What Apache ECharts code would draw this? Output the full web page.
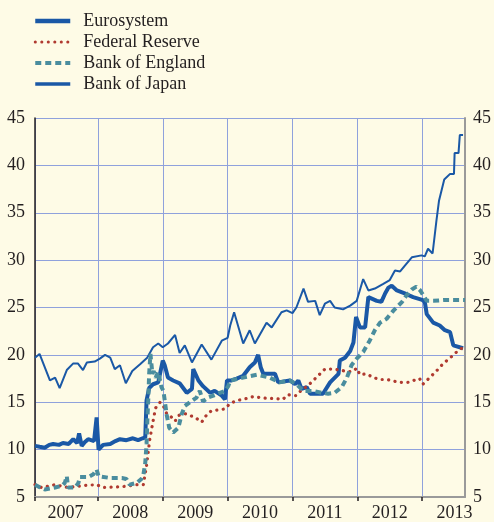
<!DOCTYPE html>
<html>
<head>
<meta charset="utf-8">
<script src="https://cdn.jsdelivr.net/npm/echarts@6/dist/echarts.min.js"></script>
<style>
  html, body { margin: 0; padding: 0; background: #fefbe6; }
  #chart { width: 494px; height: 522px; }
</style>
</head>
<body>
<div id="chart"></div>
<script>
// year labels and value ticks
const years = [2007, 2008, 2009, 2010, 2011, 2012, 2013];
const yTicks = [5, 10, 15, 20, 25, 30, 35, 40, 45];

// [fractional year, value]
const eurosystem = [
  [2007.03, 10.4], [2007.10, 10.3], [2007.18, 10.2], [2007.25, 10.5], [2007.31, 10.6], [2007.40, 10.5],
  [2007.46, 10.7], [2007.55, 10.6], [2007.62, 11.1], [2007.68, 10.7], [2007.71, 11.7], [2007.75, 10.4],
  [2007.80, 10.8], [2007.85, 11.1], [2007.94, 10.9], [2007.98, 13.4], [2008.01, 10.0], [2008.08, 10.5],
  [2008.19, 10.6], [2008.27, 10.9], [2008.34, 11.1], [2008.44, 11.0], [2008.54, 11.2], [2008.62, 11.0],
  [2008.69, 11.2], [2008.73, 11.3], [2008.75, 15.2], [2008.79, 16.5], [2008.85, 16.9], [2008.93, 17.1],
  [2009.00, 19.4], [2009.03, 18.9], [2009.08, 17.6], [2009.16, 17.3], [2009.26, 17.0], [2009.37, 16.0],
  [2009.45, 16.4], [2009.47, 18.5], [2009.55, 17.3], [2009.62, 16.7], [2009.73, 16.0], [2009.80, 16.2],
  [2009.91, 15.7], [2009.96, 15.3], [2009.99, 17.3], [2010.06, 17.3], [2010.14, 17.5], [2010.24, 17.8],
  [2010.34, 18.7], [2010.42, 19.2], [2010.47, 20.0], [2010.51, 18.7], [2010.55, 18.0], [2010.73, 18.0],
  [2010.78, 17.1], [2010.96, 17.3], [2011.04, 16.9], [2011.09, 17.3], [2011.14, 16.4], [2011.22, 16.6],
  [2011.27, 15.9], [2011.47, 15.9], [2011.58, 17.1], [2011.71, 18.0], [2011.73, 19.4], [2011.81, 19.7],
  [2011.89, 20.4], [2011.94, 21.3], [2011.98, 24.0], [2012.04, 22.9], [2012.12, 22.9], [2012.17, 26.1],
  [2012.30, 25.7], [2012.37, 25.6], [2012.43, 26.5], [2012.48, 27.1], [2012.53, 27.3], [2012.61, 26.8],
  [2012.76, 26.4], [2012.86, 26.1], [2013.00, 25.8], [2013.04, 25.6], [2013.07, 24.3], [2013.17, 23.4],
  [2013.27, 23.1], [2013.35, 22.6], [2013.43, 22.4], [2013.48, 21.0], [2013.63, 20.7]
];

const federalReserve = [
  [2007.03, 6.3], [2007.13, 6.0], [2007.34, 6.3], [2007.54, 6.0], [2007.77, 6.2], [2007.98, 6.3],
  [2008.08, 6.0], [2008.39, 6.1], [2008.60, 6.3], [2008.70, 6.3], [2008.75, 8.3], [2008.80, 11.1],
  [2008.85, 13.0], [2008.89, 14.4], [2008.96, 15.0], [2009.01, 14.6], [2009.06, 13.8], [2009.11, 13.6],
  [2009.19, 13.0], [2009.24, 13.6], [2009.34, 13.8], [2009.42, 13.6], [2009.50, 13.4], [2009.60, 12.9],
  [2009.68, 13.7], [2009.75, 14.1], [2009.88, 14.2], [2009.96, 14.3], [2010.04, 14.9], [2010.16, 15.2],
  [2010.29, 15.4], [2010.40, 15.6], [2010.50, 15.5], [2010.61, 15.4], [2010.73, 15.4], [2010.85, 15.3],
  [2010.93, 15.8], [2011.01, 15.7], [2011.06, 15.7], [2011.14, 16.3], [2011.23, 16.7], [2011.32, 17.3],
  [2011.41, 17.9], [2011.50, 18.5], [2011.62, 18.5], [2011.74, 18.4], [2011.86, 18.2], [2011.94, 18.3],
  [2011.99, 18.6], [2012.04, 17.9], [2012.14, 18.0], [2012.25, 17.6], [2012.35, 17.4], [2012.46, 17.4],
  [2012.58, 17.2], [2012.68, 17.1], [2012.78, 17.1], [2012.87, 17.3], [2012.96, 17.5], [2013.01, 16.9],
  [2013.07, 17.3], [2013.13, 17.7], [2013.22, 18.3], [2013.30, 18.9], [2013.38, 19.4], [2013.45, 19.8],
  [2013.53, 20.3], [2013.61, 20.7]
];

const bankOfEngland = [
  [2007.03, 6.3], [2007.11, 6.0], [2007.18, 5.8], [2007.34, 6.0], [2007.45, 6.2], [2007.49, 6.5],
  [2007.52, 7.2], [2007.54, 6.0], [2007.65, 6.0], [2007.70, 6.5], [2007.72, 7.1], [2007.85, 7.1],
  [2007.93, 7.4], [2007.98, 7.9], [2008.01, 7.2], [2008.19, 7.0], [2008.37, 7.0], [2008.44, 6.9],
  [2008.49, 6.3], [2008.60, 6.5], [2008.67, 6.9], [2008.70, 7.3], [2008.73, 8.6], [2008.75, 10.6],
  [2008.76, 12.7], [2008.78, 15.9], [2008.79, 18.0], [2008.81, 20.1], [2008.84, 18.0], [2008.86, 18.3],
  [2008.89, 17.6], [2008.93, 18.2], [2008.98, 16.6], [2009.01, 16.2], [2009.03, 15.2], [2009.06, 13.7],
  [2009.10, 12.3], [2009.16, 11.8], [2009.24, 12.3], [2009.29, 13.7], [2009.34, 14.6], [2009.42, 15.0],
  [2009.52, 15.5], [2009.57, 16.2], [2009.62, 15.1], [2009.70, 15.5], [2009.78, 15.7], [2009.88, 16.0],
  [2009.96, 16.2], [2010.01, 16.7], [2010.04, 17.3], [2010.24, 17.6], [2010.45, 17.9], [2010.65, 17.6],
  [2010.80, 17.1], [2010.96, 17.3], [2011.06, 16.9], [2011.17, 16.2], [2011.32, 16.2], [2011.45, 16.0],
  [2011.55, 15.9], [2011.65, 16.0], [2011.76, 16.6], [2011.84, 17.6], [2011.91, 18.9], [2011.99, 19.6],
  [2012.09, 20.3], [2012.19, 21.5], [2012.27, 22.6], [2012.35, 23.4], [2012.45, 23.8], [2012.56, 24.7],
  [2012.69, 25.6], [2012.76, 26.3], [2012.84, 26.9], [2012.91, 27.2], [2012.97, 26.8], [2013.07, 25.7],
  [2013.17, 25.7], [2013.35, 25.8], [2013.66, 25.8]
];

const bankOfJapan = [
  [2007.03, 19.7], [2007.10, 20.1], [2007.26, 17.3], [2007.34, 17.6], [2007.41, 16.5], [2007.52, 18.4],
  [2007.62, 19.1], [2007.69, 19.1], [2007.77, 18.4], [2007.83, 19.2], [2007.95, 19.3], [2008.03, 19.6],
  [2008.11, 20.0], [2008.19, 19.7], [2008.26, 18.5], [2008.34, 18.9], [2008.43, 17.0], [2008.53, 18.3],
  [2008.65, 19.0], [2008.76, 19.7], [2008.85, 20.8], [2008.93, 21.2], [2009.00, 20.8], [2009.08, 21.2],
  [2009.19, 22.1], [2009.26, 20.2], [2009.34, 21.0], [2009.45, 19.2], [2009.60, 21.1], [2009.75, 19.5],
  [2009.91, 21.5], [2010.00, 21.8], [2010.04, 23.1], [2010.10, 24.5], [2010.24, 21.2], [2010.34, 22.6],
  [2010.42, 21.2], [2010.60, 23.4], [2010.68, 22.9], [2010.83, 24.5], [2010.91, 24.7], [2011.00, 24.4],
  [2011.06, 25.0], [2011.17, 27.0], [2011.24, 25.6], [2011.35, 25.7], [2011.42, 24.2], [2011.50, 25.4],
  [2011.58, 25.7], [2011.65, 25.0], [2011.78, 24.8], [2011.89, 25.2], [2011.99, 25.7], [2012.09, 28.0],
  [2012.17, 26.8], [2012.27, 27.0], [2012.40, 27.5], [2012.50, 27.9], [2012.58, 28.9], [2012.66, 28.8],
  [2012.73, 29.4], [2012.84, 30.3], [2012.99, 30.5], [2013.04, 30.4], [2013.09, 31.2], [2013.16, 30.7],
  [2013.22, 34.2], [2013.26, 36.3], [2013.34, 38.5], [2013.43, 39.1], [2013.49, 39.1], [2013.50, 41.3],
  [2013.56, 41.3], [2013.58, 43.2], [2013.63, 43.2]
];

const xMin = 2007.03;
const xMax = 2013.66;

const textColor = "#231f20";
const gridColor = "#8fa1dc";
const serif = "Liberation Serif";

const chart = echarts.init(document.getElementById("chart"));

const yAxisBase = {
  type: "value",
  min: yTicks[0],
  max: yTicks[yTicks.length - 1],
  interval: 5,
  axisTick: { show: false },
  axisLabel: { color: textColor, fontFamily: serif, fontSize: 18 },
};

chart.setOption({
  animation: false,
  backgroundColor: "#fefbe6",
  legend: {
    orient: "vertical",
    left: 33,
    top: 12,
    padding: 0,
    itemWidth: 35,
    itemHeight: 14,
    itemGap: 3,
    itemStyle: { opacity: 0 },
    data: [
      { name: "Eurosystem", lineStyle: { width: 4.5 } },
      { name: "Federal Reserve", lineStyle: { width: 3 } },
      { name: "Bank of England", lineStyle: { width: 4 } },
      { name: "Bank of Japan", lineStyle: { width: 3.5 } },
    ],
    textStyle: { color: textColor, fontFamily: serif, fontSize: 18, padding: [0, 0, 0, 8] },
  },
  grid: { left: 35, right: 29, top: 118, bottom: 25 },
  xAxis: {
    type: "value",
    min: xMin,
    max: xMax,
    axisLine: { show: true, onZero: false, lineStyle: { color: "#9a9a9a", width: 2 } },
    axisTick: {
      show: true,
      customValues: [xMin].concat(years.slice(1)),
      length: 4,
      lineStyle: { color: textColor, width: 1.5 },
    },
    axisLabel: {
      customValues: years.map((y) => y + 0.5),
      formatter: (v) => String(Math.floor(v)),
      color: textColor,
      fontFamily: serif,
      fontSize: 18,
      margin: 7,
    },
    splitLine: { show: true, lineStyle: { color: gridColor, width: 1 } },
  },
  yAxis: [
    Object.assign({}, yAxisBase, {
      position: "left",
      axisLine: { show: true, lineStyle: { color: textColor, width: 1.5 } },
      axisLabel: Object.assign({}, yAxisBase.axisLabel, { margin: 10 }),
      splitLine: { show: true, lineStyle: { color: gridColor, width: 1 } },
    }),
    Object.assign({}, yAxisBase, {
      position: "right",
      axisLine: { show: true, lineStyle: { color: "#9a9a9a", width: 2 } },
      axisLabel: Object.assign({}, yAxisBase.axisLabel, { margin: 8 }),
      splitLine: { show: false },
    }),
  ],
  series: [
    {
      name: "Eurosystem",
      type: "line",
      data: eurosystem,
      symbol: "none",
      lineStyle: { color: "#1a58a6", width: 4 },
      itemStyle: { color: "#1a58a6" },
    },
    {
      name: "Bank of Japan",
      type: "line",
      data: bankOfJapan,
      symbol: "none",
      lineStyle: { color: "#1a58a6", width: 2 },
      itemStyle: { color: "#1a58a6" },
    },
    {
      name: "Federal Reserve",
      type: "line",
      data: federalReserve,
      symbol: "none",
      lineStyle: { color: "#b03a30", width: 3.2, type: [0.1, 6.4], cap: "round" },
      itemStyle: { color: "#b03a30" },
    },
    {
      name: "Bank of England",
      type: "line",
      data: bankOfEngland,
      symbol: "none",
      lineStyle: { color: "#4a8d9e", width: 4, type: [6, 4] },
      itemStyle: { color: "#4a8d9e" },
    },
  ],
});
</script>
</body>
</html>
